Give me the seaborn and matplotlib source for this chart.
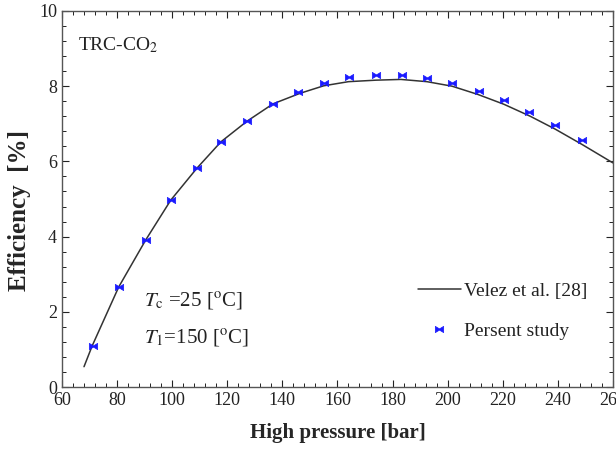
import numpy as np
import pandas as pd
import matplotlib
matplotlib.use("Agg")
import matplotlib.pyplot as plt
from matplotlib.path import Path
from matplotlib.ticker import MultipleLocator
import seaborn as sns

# Velez et al. [28] curve
curve_p = [68, 71, 80.6, 90.4, 99.5, 109, 117.7, 127.2, 136.6, 146.4, 155, 164, 174,
           183, 192.5, 201.6, 211, 220.4, 230, 239, 248.8, 260]
curve_eff = [0.54, 1.10, 2.66, 3.91, 4.97, 5.82, 6.52, 7.07, 7.53, 7.81, 8.01, 8.12, 8.16,
             8.18, 8.12, 8.00, 7.78, 7.52, 7.20, 6.86, 6.45, 5.96]

# Present study points
study_p = [71.1, 80.6, 90.4, 99.5, 109, 117.7, 127.2, 136.6, 145.7, 155.1, 164.2, 174,
           183.4, 192.5, 201.6, 211.3, 220.4, 229.5, 239, 248.8]
study_eff = [1.09, 2.66, 3.91, 4.97, 5.82, 6.52, 7.07, 7.53, 7.85, 8.09, 8.24, 8.30,
             8.30, 8.23, 8.09, 7.88, 7.63, 7.32, 6.97, 6.57]

sns.set_theme(style="white")
plt.rcParams['font.family'] = ['Liberation Serif', 'DejaVu Serif']
plt.rcParams['mathtext.fontset'] = 'stix'

fig = plt.figure(figsize=(6.16, 4.5), dpi=100)
ax = fig.add_axes([0.1006, 0.14, 0.8944, 0.8356])

curve_df = pd.DataFrame({"p": curve_p, "eff": curve_eff})
study_df = pd.DataFrame({"p": study_p, "eff": study_eff})

bowtie = Path([(-1, -0.75), (-1, 0.75), (0, 0.15), (1, 0.75), (1, -0.75), (0, -0.15), (-1, -0.75)],
              [Path.MOVETO, Path.LINETO, Path.LINETO, Path.LINETO, Path.LINETO, Path.LINETO, Path.CLOSEPOLY])

sns.lineplot(data=curve_df, x="p", y="eff", ax=ax, color="#333333", linewidth=1.1,
             label="Velez et al. [28]")
ax.plot(study_df["p"], study_df["eff"], linestyle="none", marker=bowtie, markersize=6,
        color="#1a1aff", markeredgewidth=0.5, label="Persent study")

ax.set_xlim(60, 260)
ax.set_ylim(0, 10)
ax.xaxis.set_major_locator(MultipleLocator(20))
ax.xaxis.set_minor_locator(MultipleLocator(4))
ax.yaxis.set_major_locator(MultipleLocator(2))
ax.yaxis.set_minor_locator(MultipleLocator(0.4))
ax.tick_params(which="both", direction="in", top=True, right=True, bottom=True, left=True,
               labelsize=13, colors="#222222")
ax.tick_params(which="major", length=5, width=0.8)
ax.tick_params(which="minor", length=3, width=0.7)
for s in ax.spines.values():
    s.set_color("#555555")
    s.set_linewidth(1.0)

ax.set_xlabel("High pressure [bar]", fontsize=15, fontweight="bold", labelpad=10)
ax.set_ylabel("Efficiency  [%]", fontsize=18, fontweight="bold", labelpad=10)
ax.yaxis.set_label_coords(-0.057, 0.47)

ax.text(0.03, 0.895, r"TRC-CO$_2$", transform=ax.transAxes, fontsize=14, color="#222222")
ax.text(0.148, 0.227, r"$T_{\rm c}$ =25 [$^{\rm o}$C]", transform=ax.transAxes,
        fontsize=15, color="#222222", va="center")
ax.text(0.148, 0.13, r"$T_{\rm 1}$=150 [$^{\rm o}$C]", transform=ax.transAxes,
        fontsize=15, color="#222222", va="center")

leg = ax.legend(loc="lower right", bbox_to_anchor=(0.985, 0.078), frameon=False, fontsize=14,
                handlelength=2.2, handletextpad=0.15, labelspacing=1.15)
for t in leg.get_texts():
    t.set_color("#222222")

fig.savefig("out.png", dpi=100)
